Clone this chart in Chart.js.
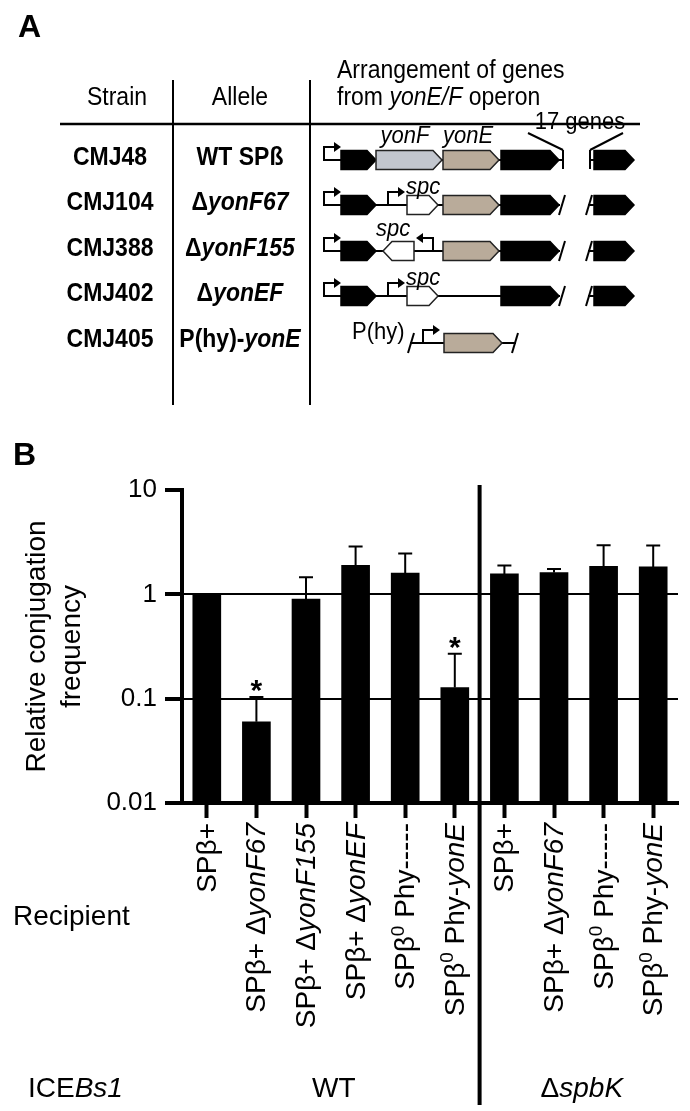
<!DOCTYPE html>
<html>
<head>
<meta charset="utf-8">
<title>yonE/F operon and conjugation frequency</title>
<script src="https://cdn.jsdelivr.net/npm/chart.js@4.4.0/dist/chart.umd.min.js"></script>
<style>
    html, body { margin: 0; padding: 0; background: #fff; }
    #page { position: relative; width: 690px; height: 1111px; overflow: hidden;
            font-family: 'Liberation Sans', Arial, Helvetica, sans-serif; color: #000; }
    #genes { position: absolute; left: 0; top: 0; }
    #chart-wrap { position: absolute; left: 0; top: 420px; width: 690px; height: 691px; }
    .t { position: absolute; white-space: nowrap; line-height: 1; }
    .b { font-weight: bold; }
</style>
</head>
<body>
<div id="page">
    <canvas id="genes" width="690" height="420"></canvas>
    <div id="chart-wrap"><canvas id="chart" width="690" height="691"></canvas></div>
</div>
<script>
// ---- Panel B data ----
// _x_ = italic, ^x = superscript
const recipients = [
    'SPβ+', 'SPβ+ Δ_yonF67_', 'SPβ+ Δ_yonF155_', 'SPβ+ Δ_yonEF_', 'SPβ^0 Phy-----', 'SPβ^0 Phy-_yonE_',
    'SPβ+', 'SPβ+ Δ_yonF67_', 'SPβ^0 Phy-----', 'SPβ^0 Phy-_yonE_'
];
const frequency = [1.0, 0.06, 0.9, 1.9, 1.6, 0.128, 1.57, 1.62, 1.86, 1.83];
const errorTop = [null, 0.104, 1.46, 2.87, 2.46, 0.27, 1.89, 1.75, 2.96, 2.94];
const significant = [false, true, false, false, false, true, false, false, false, false];
const yTicks = [0.01, 0.1, 1, 10];
const gridValues = [0.1, 1];
const iceGroups = ['WT', 'Δ_spbK_'];
const groupSizes = [6, 4];

// ---- Panel A table ----
const strains = ['CMJ48', 'CMJ104', 'CMJ388', 'CMJ402', 'CMJ405'];
const alleles = ['WT SPß', 'Δ<i>yonF67</i>', 'Δ<i>yonF155</i>', 'Δ<i>yonEF</i>', 'P(hy)-<i>yonE</i>'];

const FONT = "'Liberation Sans', Arial, Helvetica, sans-serif";
const page = document.getElementById('page');

// Place an html text with its baseline at y (panel A text is a bit tall in the figure)
function label(html, x, base, size, opts) {
    opts = opts || {};
    const d = document.createElement('div');
    d.className = 't' + (opts.bold ? ' b' : '');
    d.style.fontSize = size + 'px';
    d.style.left = x + 'px';
    d.style.top = (base - 0.8465 * size) + 'px';
    d.style.transformOrigin = '0 ' + (0.8465 * size) + 'px';
    const sy = opts.stretch || 1;
    d.style.transform = (opts.center ? 'translateX(-50%) ' : '') + 'scaleY(' + sy + ')';
    d.innerHTML = html;
    page.appendChild(d);
}

// ---- Panel A drawing ----
function drawGenes() {
    const ctx = document.getElementById('genes').getContext('2d');
    ctx.strokeStyle = '#000';
    ctx.fillStyle = '#000';
    ctx.lineCap = 'butt';

    function line(x1, y1, x2, y2, w) {
        ctx.lineWidth = w || 2;
        ctx.beginPath();
        ctx.moveTo(x1, y1);
        ctx.lineTo(x2, y2);
        ctx.stroke();
    }

    function gene(x1, x2, y, fill, dir) {
        const h = 9.5, tip = 9;
        ctx.beginPath();
        if (dir === 'left') {
            ctx.moveTo(x2, y - h);
            ctx.lineTo(x1 + tip, y - h);
            ctx.lineTo(x1, y);
            ctx.lineTo(x1 + tip, y + h);
            ctx.lineTo(x2, y + h);
        } else {
            ctx.moveTo(x1, y - h);
            ctx.lineTo(x2 - tip, y - h);
            ctx.lineTo(x2, y);
            ctx.lineTo(x2 - tip, y + h);
            ctx.lineTo(x1, y + h);
        }
        ctx.closePath();
        ctx.fillStyle = fill;
        ctx.fill();
        ctx.lineWidth = 1.5;
        ctx.strokeStyle = fill === '#000' ? '#000' : '#222';
        ctx.stroke();
        ctx.strokeStyle = '#000';
        ctx.fillStyle = '#000';
    }

    function promoter(x, y, dir) {
        const d = dir === 'left' ? -1 : 1;
        ctx.lineWidth = 2;
        ctx.beginPath();
        ctx.moveTo(x, y);
        ctx.lineTo(x, y - 13);
        ctx.lineTo(x + d * 11, y - 13);
        ctx.stroke();
        ctx.beginPath();
        ctx.moveTo(x + d * 17, y - 13);
        ctx.lineTo(x + d * 10, y - 18);
        ctx.lineTo(x + d * 10, y - 8);
        ctx.closePath();
        ctx.fill();
    }

    function slash(x, y) {
        line(x - 3, y + 10, x + 3, y - 10, 2);
    }

    const BLACK = '#000', YONF = '#c2c6ce', YONE = '#b9ab9a', WHITE = '#fff';
    const rows = [160, 205, 251, 296, 343];

    // table rules
    line(60, 124, 640, 124, 2.5);
    line(173, 80, 173, 405, 2);
    line(310, 80, 310, 405, 2);

    // row 1: wild type
    let y = rows[0];
    line(323, y, 563, y);
    promoter(324, y);
    gene(341, 376, y, BLACK);
    gene(376, 442, y, YONF);
    gene(443, 499, y, YONE);
    gene(501, 559, y, BLACK);
    line(563, y - 10, 563, y + 9);
    line(563, y - 10, 528, y - 27);
    line(590, y - 10, 590, y + 9);
    line(590, y - 10, 623, y - 27);
    line(590, y, 595, y);
    gene(594, 634, y, BLACK);

    // row 2: delta yonF67
    y = rows[1];
    line(323, y, 560, y);
    promoter(324, y);
    gene(341, 376, y, BLACK);
    promoter(388, y);
    gene(407, 438, y, WHITE);
    gene(443, 499, y, YONE);
    gene(501, 559, y, BLACK);
    slash(562, y);
    line(588, y, 595, y);
    slash(589, y);
    gene(594, 634, y, BLACK);

    // row 3: delta yonF155 (spc reversed)
    y = rows[2];
    line(323, y, 560, y);
    promoter(324, y);
    gene(341, 376, y, BLACK);
    gene(383, 414, y, WHITE, 'left');
    promoter(433, y, 'left');
    gene(443, 499, y, YONE);
    gene(501, 559, y, BLACK);
    slash(562, y);
    line(588, y, 595, y);
    slash(589, y);
    gene(594, 634, y, BLACK);

    // row 4: delta yonEF
    y = rows[3];
    line(323, y, 560, y);
    promoter(324, y);
    gene(341, 376, y, BLACK);
    promoter(388, y);
    gene(407, 438, y, WHITE);
    gene(501, 559, y, BLACK);
    slash(562, y);
    line(588, y, 595, y);
    slash(589, y);
    gene(594, 634, y, BLACK);

    // row 5: P(hy)-yonE
    y = rows[4];
    line(410, y, 516, y);
    slash(411, y);
    slash(515, y);
    promoter(423, y);
    gene(444, 502, y, YONE);
}

function drawTableText() {
    const st = 1.12;
    label('A', 18, 37, 32, { bold: true });
    label('Strain', 117, 105, 23, { center: true, stretch: st });
    label('Allele', 240, 105, 23, { center: true, stretch: st });
    label('Arrangement of genes', 337, 78, 23, { stretch: st });
    label('from <i>yonE/F</i> operon', 337, 105, 23, { stretch: st });

    const bases = [165, 210, 256, 301, 347];
    strains.forEach((s, i) => label(s, 110, bases[i], 23, { center: true, bold: true, stretch: st }));
    alleles.forEach((a, i) => label(a, 240, bases[i], 23, { center: true, bold: true, stretch: st }));

    label('<i>yonF</i>', 405, 144, 22, { center: true, stretch: st });
    label('<i>yonE</i>', 468, 144, 22, { center: true, stretch: st });
    label('17 genes', 580, 130, 22, { center: true, stretch: st });
    label('<i>spc</i>', 406, 195, 22, { stretch: st });
    label('<i>spc</i>', 376, 237, 22, { stretch: st });
    label('<i>spc</i>', 406, 286, 22, { stretch: st });
    label('P(hy)', 352, 340, 22, { stretch: st });
    label('B', 13, 465, 32, { bold: true });
}

// ---- rich text helpers for the chart canvas ----
function parseRich(str) {
    return str.split(/(_[^_]+_|\^\w)/).filter(s => s).map(p => {
        if (p[0] === '_') return { text: p.slice(1, -1), italic: true };
        if (p[0] === '^') return { text: p.slice(1), sup: true };
        return { text: p };
    });
}

function segFont(seg, size) {
    const fs = seg.sup ? Math.round(size * 0.68) : size;
    return (seg.italic ? 'italic ' : '') + fs + 'px ' + FONT;
}

function richWidth(ctx, segs, size) {
    let w = 0;
    segs.forEach(s => { ctx.font = segFont(s, size); w += ctx.measureText(s.text).width; });
    return w;
}

function drawRich(ctx, segs, x, y, size) {
    segs.forEach(s => {
        ctx.font = segFont(s, size);
        ctx.fillText(s.text, x, s.sup ? y - size * 0.38 : y);
        x += ctx.measureText(s.text).width;
    });
}

// Error bars, stars, rotated recipient labels, ICEBs1 groups
const annotatePlugin = {
    id: 'annotate',
    afterDatasetsDraw(chart) {
        const ctx = chart.ctx;
        const yScale = chart.scales.y;
        const bars = chart.getDatasetMeta(0).data;
        ctx.save();
        ctx.strokeStyle = '#000';
        ctx.fillStyle = '#000';
        ctx.lineWidth = 2;
        bars.forEach((bar, i) => {
            if (errorTop[i] == null) return;
            const yTop = yScale.getPixelForValue(errorTop[i]);
            ctx.beginPath();
            ctx.moveTo(bar.x, bar.y);
            ctx.lineTo(bar.x, yTop);
            ctx.moveTo(bar.x - 7, yTop);
            ctx.lineTo(bar.x + 7, yTop);
            ctx.stroke();
            if (significant[i]) {
                ctx.font = 'bold 30px ' + FONT;
                ctx.textAlign = 'center';
                ctx.textBaseline = 'alphabetic';
                ctx.fillText('*', bar.x, yTop + 3);
            }
        });
        ctx.restore();
    },
    afterDraw(chart) {
        const ctx = chart.ctx;
        const area = chart.chartArea;
        const bars = chart.getDatasetMeta(0).data;
        const size = 28;
        ctx.save();
        ctx.fillStyle = '#000';
        ctx.strokeStyle = '#000';
        ctx.textAlign = 'left';
        ctx.textBaseline = 'alphabetic';

        // rotated category labels, reading upwards, ending under the tick
        const labelTop = area.bottom + 20;
        bars.forEach((bar, i) => {
            const segs = parseRich(recipients[i]);
            const w = richWidth(ctx, segs, size);
            ctx.save();
            ctx.translate(bar.x + 9, labelTop);
            ctx.rotate(-Math.PI / 2);
            drawRich(ctx, segs, -w, 0, size);
            ctx.restore();
        });

        // group dividers and names
        let start = 0;
        const groupBase = 677;
        groupSizes.forEach((n, g) => {
            const first = bars[start], last = bars[start + n - 1];
            const segs = parseRich(iceGroups[g]);
            const w = richWidth(ctx, segs, size);
            drawRich(ctx, segs, (first.x + last.x) / 2 - w / 2 + 3, groupBase, size);
            if (start + n < bars.length) {
                const xDiv = (last.x + bars[start + n].x) / 2;
                ctx.lineWidth = 4;
                ctx.beginPath();
                ctx.moveTo(xDiv, area.top - 5);
                ctx.lineTo(xDiv, 685);
                ctx.stroke();
            }
            start += n;
        });

        drawRich(ctx, parseRich('Recipient'), 13, 505, size);
        drawRich(ctx, parseRich('ICE_Bs1_'), 28, groupBase, size);
        ctx.restore();
    }
};

Chart.defaults.font.family = FONT;
Chart.defaults.color = '#000';

function initChart() {
    const ctx = document.getElementById('chart').getContext('2d');
    window.freqChart = new Chart(ctx, {
        type: 'bar',
        data: {
            labels: recipients,
            datasets: [{
                data: frequency,
                backgroundColor: '#000',
                borderWidth: 0,
                barThickness: 28
            }]
        },
        options: {
            responsive: false,
            animation: false,
            devicePixelRatio: 1,
            layout: { padding: { top: 70, right: 12, left: 0, bottom: 0 } },
            plugins: {
                legend: { display: false },
                tooltip: { enabled: false }
            },
            scales: {
                x: {
                    offset: true,
                    ticks: { display: false },
                    grid: {
                        display: true,
                        drawOnChartArea: false,
                        offset: false,
                        tickLength: 15,
                        tickWidth: 4,
                        tickColor: '#000'
                    },
                    border: { display: true, width: 4, color: '#000' },
                    afterFit: scale => { scale.height = 308; }
                },
                y: {
                    type: 'logarithmic',
                    min: 0.01,
                    max: 10,
                    afterBuildTicks: scale => { scale.ticks = yTicks.map(v => ({ value: v })); },
                    ticks: {
                        font: { size: 26 },
                        color: '#000',
                        padding: 8,
                        callback: v => String(v)
                    },
                    grid: {
                        color: c => (c.tick && gridValues.includes(c.tick.value)) ? '#000' : 'rgba(0,0,0,0)',
                        lineWidth: 2,
                        tickLength: 17,
                        tickWidth: 4,
                        tickColor: '#000'
                    },
                    border: { width: 4, color: '#000' },
                    title: {
                        display: true,
                        text: ['Relative conjugation', 'frequency'],
                        font: { size: 28, lineHeight: 1.25 },
                        color: '#000',
                        padding: { top: 20, bottom: 0 }
                    },
                    afterFit: scale => { scale.width = 182; }
                }
            }
        },
        plugins: [annotatePlugin]
    });
}

drawGenes();
drawTableText();
initChart();
</script>
</body>
</html>
